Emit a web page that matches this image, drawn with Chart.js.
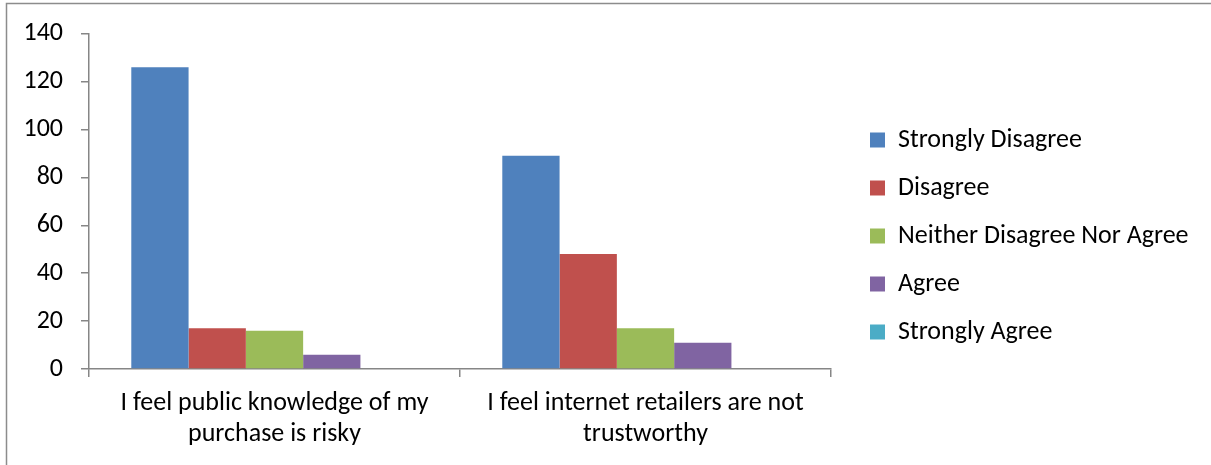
<!DOCTYPE html>
<html>
<head>
<meta charset="utf-8">
<script src="https://cdn.jsdelivr.net/npm/chart.js@4/dist/chart.umd.min.js"></script>
<style>
  html, body { margin: 0; padding: 0; background: #fff; }
  #wrap { position: relative; width: 1211px; height: 465px; }
</style>
</head>
<body>
<div id="wrap"><canvas id="c" width="1211" height="465"></canvas></div>
<script>
// Survey statements (two-line labels)
const categories = [
  ["I feel public knowledge of my", "purchase is risky"],
  ["I feel internet retailers are not", "trustworthy"]
];

// Responses per answer option
const seriesNames = ["Strongly Disagree", "Disagree", "Neither Disagree Nor Agree", "Agree", "Strongly Agree"];
const stronglyDisagree = [126, 89];
const disagree = [17, 48];
const neitherDisagreeNorAgree = [16, 17];
const agree = [6, 11];
const stronglyAgree = [0, 0];

const yTicks = [0, 20, 40, 60, 80, 100, 120, 140];

const seriesValues = [stronglyDisagree, disagree, neitherDisagreeNorAgree, agree, stronglyAgree];
const seriesColors = ["#4F81BD", "#C0504D", "#9BBB59", "#8064A2", "#4BACC6"];

const FONT = "Carlito, Lato, 'Liberation Sans', sans-serif";
const FONT_SIZE = 26;
const AXIS_GREY = "#868686";

// Frame lines along the top and left edges
const framePlugin = {
  id: "frame",
  beforeDraw(chart) {
    const ctx = chart.ctx;
    ctx.save();
    ctx.strokeStyle = "#8c8c8c";
    ctx.lineWidth = 1.5;
    ctx.beginPath();
    ctx.moveTo(6.5, 465);
    ctx.lineTo(6.5, 3.5);
    ctx.lineTo(1211, 3.5);
    ctx.stroke();
    ctx.restore();
  }
};

// Keep the legend a fixed distance right of the plot
const legendPlacePlugin = {
  id: "legendPlace",
  afterLayout(chart) {
    const lg = chart.legend;
    const pad = chart.options.plugins.legend.labels.padding;
    lg.left = 870 - pad;
    lg.right = chart.width;
    lg.width = lg.right - lg.left;
    lg.top -= 7;
    lg.bottom -= 7;
  }
};

new Chart(document.getElementById("c"), {
  type: "bar",
  data: {
    labels: categories,
    datasets: seriesNames.map((name, i) => ({
      label: name,
      data: seriesValues[i],
      backgroundColor: seriesColors[i],
      borderWidth: 0,
      categoryPercentage: 0.772,
      barPercentage: 1.0
    }))
  },
  options: {
    responsive: false,
    animation: false,
    layout: { padding: { top: 21, right: 103, bottom: 0, left: 0 } },
    plugins: {
      tooltip: { enabled: false },
      legend: {
        position: "right",
        align: "center",
        labels: {
          boxWidth: 15,
          boxHeight: 15,
          padding: 22,
          color: "#000",
          font: { family: FONT, size: FONT_SIZE }
        }
      }
    },
    scales: {
      x: {
        grid: {
          display: true,
          offset: true,
          drawOnChartArea: false,
          drawTicks: true,
          tickLength: 8,
          color: AXIS_GREY,
          lineWidth: 1.5
        },
        border: { display: true, color: AXIS_GREY, width: 1.5 },
        ticks: {
          color: "#000",
          padding: 11,
          maxRotation: 0,
          font: { family: FONT, size: FONT_SIZE, lineHeight: 31 / FONT_SIZE }
        },
        afterFit(scale) { scale.height = 96; }
      },
      y: {
        min: 0,
        max: 140,
        afterBuildTicks(scale) { scale.ticks = yTicks.map(v => ({ value: v })); },
        grid: {
          display: true,
          drawOnChartArea: false,
          drawTicks: true,
          tickLength: 8,
          color: AXIS_GREY,
          lineWidth: 1.5
        },
        border: { display: true, color: AXIS_GREY, width: 1.5 },
        ticks: {
          color: "#000",
          padding: 18,
          font: { family: FONT, size: FONT_SIZE }
        },
        afterFit(scale) { scale.width = 89; }
      }
    }
  },
  plugins: [framePlugin, legendPlacePlugin]
});
</script>
</body>
</html>
